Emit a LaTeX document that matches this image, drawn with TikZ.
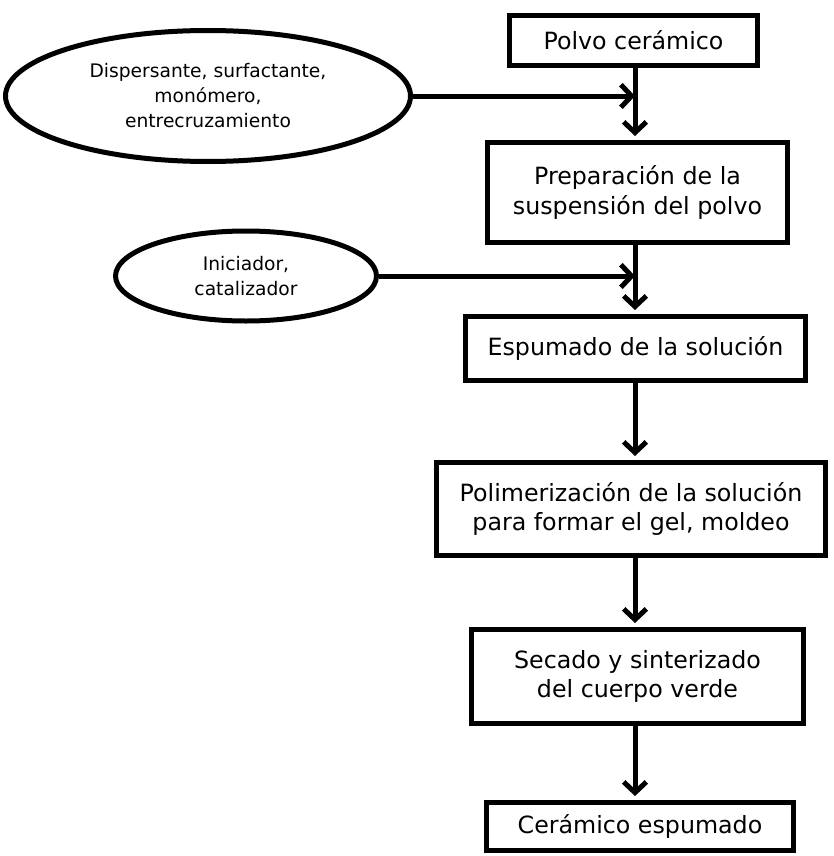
\documentclass[tikz,border=0pt]{standalone}
\usepackage{fontspec}
\setmainfont{DejaVu Sans}
\usetikzlibrary{shapes.geometric,arrows.meta}

\tikzset{
  paso/.style={draw, rectangle, line width=3.75pt, inner sep=0pt, align=center,
    font=\fontsize{17.8}{22}\selectfont},
  insumo/.style={draw, ellipse, line width=3.75pt, inner sep=0pt, align=center,
    font=\fontsize{14}{18.75}\selectfont},
  flecha/.style={line width=3.75pt, -{Straight Barb[length=8pt,width=17pt]}}
}

\begin{document}
\begin{tikzpicture}[x=0.75pt, y=-0.75pt]
  \useasboundingbox (0,0) rectangle (833,856);
  \coordinate (col) at (635,0);

  \node[paso, minimum width=186pt, minimum height=37.5pt] (polvo) at (633.5,40.5) {Polvo cerámico};
  \node[paso, minimum width=225pt, minimum height=75pt] (prep) at (637.5,192.5) {Preparación de la\\suspensión del polvo};
  \node[paso, minimum width=255pt, minimum height=48pt] (espuma) at (635.5,348.5) {Espumado de la solución};
  \node[paso, minimum width=291.75pt, minimum height=69.75pt] (polim) at (631,509) {Polimerización de la solución\\para formar el gel, moldeo};
  \node[paso, minimum width=249pt, minimum height=70.5pt] (secado) at (637.5,676.5) {Secado y sinterizado\\del cuerpo verde};
  \node[paso, minimum width=230.25pt, minimum height=36pt] (final) at (640,826.5) {Cerámico espumado};

  \node[insumo, minimum width=303.75pt, minimum height=98.25pt] (disp) at (208,96) {Dispersante, surfactante,\\monómero,\\entrecruzamiento};
  \node[insumo, minimum width=195.75pt, minimum height=67.5pt] (inic) at (246,276) {Iniciador,\\catalizador};

  \foreach \a/\b in {polvo/prep, prep/espuma, espuma/polim, polim/secado, secado/final}
    \draw[flecha, shorten >=3pt] (col |- \a.south) -- (col |- \b.north);

  \draw[flecha] (disp.east) -- (col |- disp.east);
  \draw[flecha] (inic.east) -- (col |- inic.east);
\end{tikzpicture}
\end{document}
